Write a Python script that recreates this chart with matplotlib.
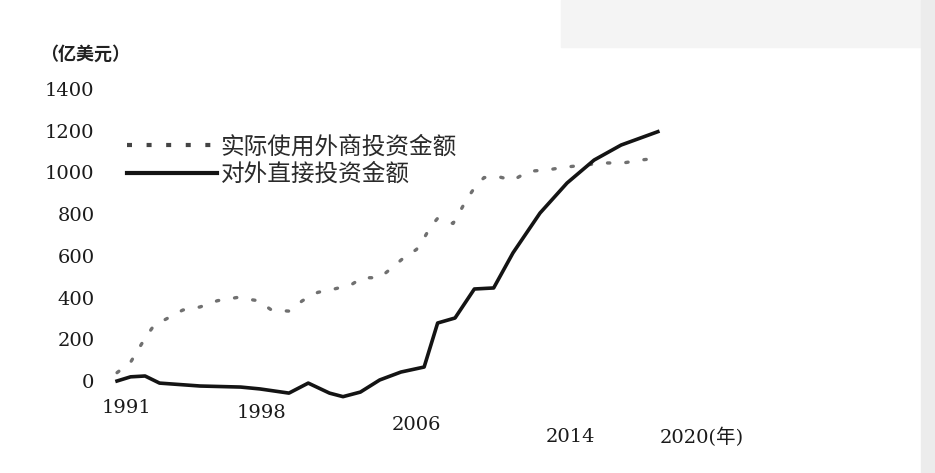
import matplotlib.pyplot as plt
from matplotlib.lines import Line2D
from matplotlib.patches import Rectangle

# 实际使用外商投资金额 (dotted)
fdi_year = [1991, 1991.7, 1992.45, 1992.9, 1993.6, 1994.4, 1995.3, 1996.2, 1997.2,
            1998.3, 1999.0, 1999.9, 2000.6, 2001.4, 2002.2, 2003.1, 2003.7, 2004.6,
            2005.2, 2005.9, 2006.5, 2006.9, 2007.2, 2007.6, 2008.4, 2008.8, 2009.1,
            2009.5, 2010.0, 2010.8, 2011.5, 2012.3, 2013.3, 2014.2, 2016.2, 2017.2,
            2018.2, 2019.0]
fdi_value = [40, 90, 205, 265, 300, 340, 355, 385, 400,
             385, 340, 335, 385, 425, 440, 460, 495, 495,
             540, 595, 630, 685, 735, 780, 755, 820, 870,
             925, 975, 978, 962, 1005, 1012, 1025, 1045, 1045,
             1060, 1068]

# 对外直接投资金额 (solid)
odi_year = [1991, 1991.7, 1992.45, 1993.2, 1995.3, 1997.4, 1998.4, 1999.9, 2000.9,
            2002.0, 2002.7, 2003.6, 2004.6, 2005.7, 2006.9, 2007.6, 2008.5, 2009.5,
            2010.5, 2011.5, 2012.9, 2014.3, 2015.7, 2017.1, 2019.0]
odi_value = [0, 20, 24, -10, -24, -29, -38, -58, -10,
             -58, -75, -53, 5, 43, 67, 278, 302, 441,
             446, 614, 805, 949, 1059, 1131, 1195]

yticks = [0, 200, 400, 600, 800, 1000, 1200, 1400]
xlabels = ['1991', '1998', '2006', '2014', '2020(年)']
xlabel_pos = [1991, 1998, 2006, 2014, 2020]

label_fdi = '实际使用外商投资金额'
label_odi = '对外直接投资金额'

fig = plt.figure(figsize=(9.35, 4.73), dpi=100)
# faint scan shading at top right and right edge
fig.patches.append(Rectangle((0.6, 0.9), 0.4, 0.1, transform=fig.transFigure,
                             color='#f4f4f4', zorder=0))
fig.patches.append(Rectangle((0.985, 0), 0.015, 1, transform=fig.transFigure,
                             color='#ececec', zorder=0))

ax = fig.add_axes([0.107, 0.112, 0.642, 0.719])
ax.set_zorder(2)
ax.patch.set_alpha(0)
ax.set_xlim(1990.12, 2021.2)
ax.set_ylim(-187, 1443)

ax.plot(fdi_year, fdi_value, color='#707070', lw=2.4,
        linestyle=(0, (0.7, 4.8)), dash_capstyle='round', zorder=2)
ax.plot(odi_year, odi_value, color='#141414', lw=2.6, zorder=3)

for s in ax.spines.values():
    s.set_visible(False)
ax.set_yticks(yticks)
ax.set_yticklabels([str(v) for v in yticks], family='DejaVu Serif',
                   fontsize=14, color='#1a1a1a')
ax.tick_params(axis='y', length=0, pad=4)
ax.set_xticks([])

# x labels, slightly staggered like the scanned original
ystag = [0.035, 0.02, -0.015, -0.05, -0.05]
for i, (x, lab) in enumerate(zip(xlabel_pos, xlabels)):
    if i == len(xlabels) - 1:
        ax.text(x - 0.9, ystag[i], lab, transform=ax.get_xaxis_transform(),
                ha='left', va='center', fontsize=14, color='#1a1a1a',
                family=['DejaVu Serif', 'Noto Sans CJK SC'])
    else:
        ax.text(x + 0.5, ystag[i], lab, transform=ax.get_xaxis_transform(),
                ha='center', va='center', fontsize=14, color='#1a1a1a',
                family='DejaVu Serif')

ax.text(-0.1, 1.075, '（亿美元）', transform=ax.transAxes, ha='left', va='center',
        fontsize=13, color='#222222', family='Noto Sans CJK SC', weight='bold')

handles = [Line2D([], [], color='#444444', lw=3, linestyle=(0, (1.2, 3.5))),
           Line2D([], [], color='#141414', lw=3)]
leg = ax.legend(handles, [label_fdi, label_odi], loc='upper left',
                bbox_to_anchor=(0.01, 0.90), frameon=False, handlelength=3.8,
                handletextpad=0.15, labelspacing=0.2,
                prop={'family': 'Noto Sans CJK SC', 'size': 17})
for t in leg.get_texts():
    t.set_color('#2a2a2a')

fig.savefig('out.png', dpi=100)
